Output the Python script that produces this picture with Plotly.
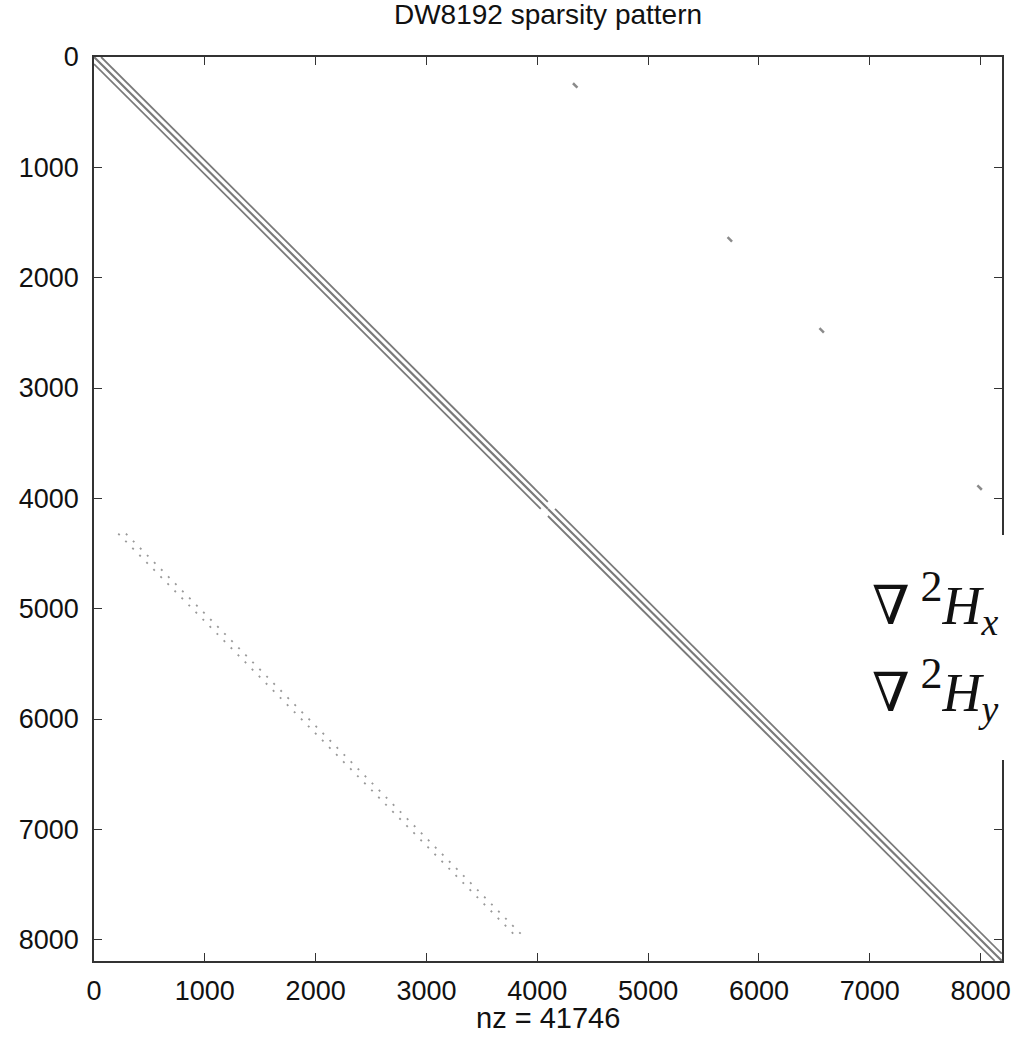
import plotly.graph_objects as go

# ---- data ----
N = 8192
BLOCK_STARTS = [0, 4096]
BLOCK_SIZE = 4096
BAND_OFFSETS = [-64, 0, 64]          # col - row for the main band diagonals

# sparse coupling diagonals in the lower-left block (row, col endpoints)
LOWER_START_ROWS = [4320, 4320]
LOWER_START_COLS = [219, 288]
LOWER_END_ROWS = [7973, 7973]
LOWER_END_COLS = [3811, 3877]

# small clusters in the upper-right block
CLUSTER_ROWS = [238, 1633, 2458, 3882]
CLUSTER_COLS = [4322, 5717, 6546, 7971]
CLUSTER_LEN = 40

X_TICKS = [0, 1000, 2000, 3000, 4000, 5000, 6000, 7000, 8000]
Y_TICKS = [0, 1000, 2000, 3000, 4000, 5000, 6000, 7000, 8000]
NZ = 41746

fig = go.Figure()

# main band
for b0 in BLOCK_STARTS:
    b1 = b0 + BLOCK_SIZE - 1
    for d in BAND_OFFSETS:
        r0 = max(b0, b0 - d)
        r1 = min(b1, b1 - d)
        fig.add_trace(go.Scatter(
            x=[r0 + d, r1 + d], y=[r0, r1], mode="lines",
            line=dict(color="#7a7a7a", width=2.2 if d == 0 else 1.8),
            hoverinfo="skip", showlegend=False))

# lower-left dotted diagonals
for rs, cs, re_, ce in zip(LOWER_START_ROWS, LOWER_START_COLS, LOWER_END_ROWS, LOWER_END_COLS):
    fig.add_trace(go.Scatter(
        x=[cs, ce], y=[rs, re_], mode="lines",
        line=dict(color="#999999", width=1.8, dash="2px,8px"),
        hoverinfo="skip", showlegend=False))

# upper-right clusters
for r, c in zip(CLUSTER_ROWS, CLUSTER_COLS):
    fig.add_trace(go.Scatter(
        x=[c, c + CLUSTER_LEN], y=[r, r + CLUSTER_LEN], mode="lines",
        line=dict(color="#8a8a8a", width=2.5),
        hoverinfo="skip", showlegend=False))

FONT = "Liberation Sans, Arial, Helvetica, sans-serif"
axis_common = dict(
    showgrid=False, zeroline=False, automargin=False,
    showline=True, linecolor="#333333", linewidth=1.5, mirror="ticks",
    ticks="inside", ticklen=8, tickwidth=1.2, tickcolor="#333333",
    tickfont=dict(family=FONT, size=27, color="#111111"),
)

fig.update_xaxes(range=[0, N + 1], tickvals=X_TICKS, ticktext=[str(v) for v in X_TICKS],
                 ticklabelstandoff=5, **axis_common)
fig.update_yaxes(range=[N + 1, 0], tickvals=Y_TICKS, ticktext=[str(v) for v in Y_TICKS],
                 ticklabelstandoff=8, **axis_common)

# x-axis label
fig.add_annotation(xref="paper", yref="paper", x=0.5, y=-0.0625, xanchor="center", yanchor="middle",
                   text="nz = %d" % NZ, showarrow=False,
                   font=dict(family=FONT, size=29, color="#111111"))

# white box with the equation labels
fig.add_shape(type="rect", xref="paper", yref="paper",
              x0=0.805, x1=1.02, y0=0.2223, y1=0.4712,
              fillcolor="white", line=dict(width=0), layer="above")

eq_font = dict(family="Liberation Serif, DejaVu Serif, serif", size=54, color="#111111")
SUP2 = '<sup><span style="font-size:44px">2</span></sup>'
fig.add_annotation(xref="paper", yref="paper", x=0.999, y=0.397, xanchor="right", yanchor="middle",
                   text="∇\u2009" + SUP2 + "<i>H</i><sub><i>x</i></sub>", showarrow=False, font=eq_font)
fig.add_annotation(xref="paper", yref="paper", x=0.999, y=0.300, xanchor="right", yanchor="middle",
                   text="∇\u2009" + SUP2 + "<i>H</i><sub><i>y</i></sub>", showarrow=False, font=eq_font)

fig.update_layout(
    width=1017, height=1037,
    margin=dict(l=94, r=15, t=57, b=76),
    plot_bgcolor="white", paper_bgcolor="white",
    title=dict(text="DW8192 sparsity pattern", x=0.5, xref="paper", xanchor="center",
               yref="container", y=0.996, yanchor="top",
               font=dict(family=FONT, size=28, color="#111111")),
)

fig.write_html("out.html", config={"displayModeBar": False},
               post_script="document.body.style.margin='0';document.body.style.overflow='hidden';")
